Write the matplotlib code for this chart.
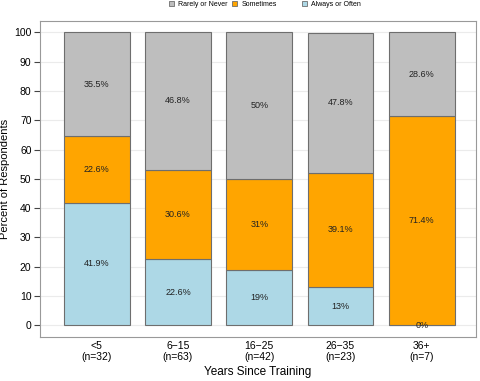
import numpy as np
import matplotlib.pyplot as plt
from matplotlib.patches import Patch

plt.rcParams['font.family'] = ['Liberation Sans', 'DejaVu Sans']

groups = ['<5\n(n=32)', '6\u221215\n(n=63)', '16\u221225\n(n=42)', '26\u221235\n(n=23)', '36+\n(n=7)']
always = [41.9, 22.6, 19, 13, 0]
sometimes = [22.6, 30.6, 31, 39.1, 71.4]
rarely = [35.5, 46.8, 50, 47.8, 28.6]

series = [('Always or Often', always, '#ADD8E6'),
          ('Sometimes', sometimes, '#FFA500'),
          ('Rarely or Never', rarely, '#BEBEBE')]

fig = plt.figure(figsize=(4.8, 3.81), dpi=100)
ax = fig.add_axes([0.083, 0.1155, 0.909, 0.83])

x = np.arange(1, len(groups) + 1)
bottom = np.zeros(len(groups))
for name, vals, col in series:
    vals = np.array(vals, dtype=float)
    ax.bar(x, vals, bottom=bottom, width=0.81, color=col, edgecolor='#6E6E6E',
           linewidth=0.8, zorder=2)
    for xi, b, v in zip(x, bottom, vals):
        ax.text(xi, b + v / 2, f'{v:g}%', ha='center', va='center',
                fontsize=6.5, color='#222222', zorder=3)
    bottom += vals

ax.set_xlim(0.3, 5.67)
ax.set_ylim(-4, 104)
ax.set_yticks(range(0, 101, 10))
ax.set_xticks(x)
ax.set_xticklabels(groups, fontsize=7.5, linespacing=1.05)
ax.tick_params(axis='y', labelsize=7.5, length=4, color='#444444', pad=2)
ax.tick_params(axis='x', length=0, pad=3)
ax.grid(axis='y', color='#EBEBEB', linewidth=0.8, zorder=0)
ax.set_axisbelow(True)
for s in ax.spines.values():
    s.set_color('#999999')
    s.set_linewidth(0.8)

ax.set_ylabel('Percent of Respondents', fontsize=8, labelpad=3)
ax.set_xlabel('Years Since Training', fontsize=8.5, labelpad=3)

# legend entries placed at fixed positions (equal-width columns)
legend_x = [169, 232, 302]
for (n, _, c), lx in zip(reversed(series), legend_x):
    h = Patch(facecolor=c, edgecolor='#6E6E6E', linewidth=0.6, label=n)
    fig.legend(handles=[h], loc='center left', bbox_to_anchor=(lx / 480, 1 - 4.5 / 381),
               frameon=False, fontsize=5, handlelength=0.75, handleheight=0.75,
               handletextpad=0.6, borderpad=0, borderaxespad=0)

fig.savefig('out.png', dpi=100)
